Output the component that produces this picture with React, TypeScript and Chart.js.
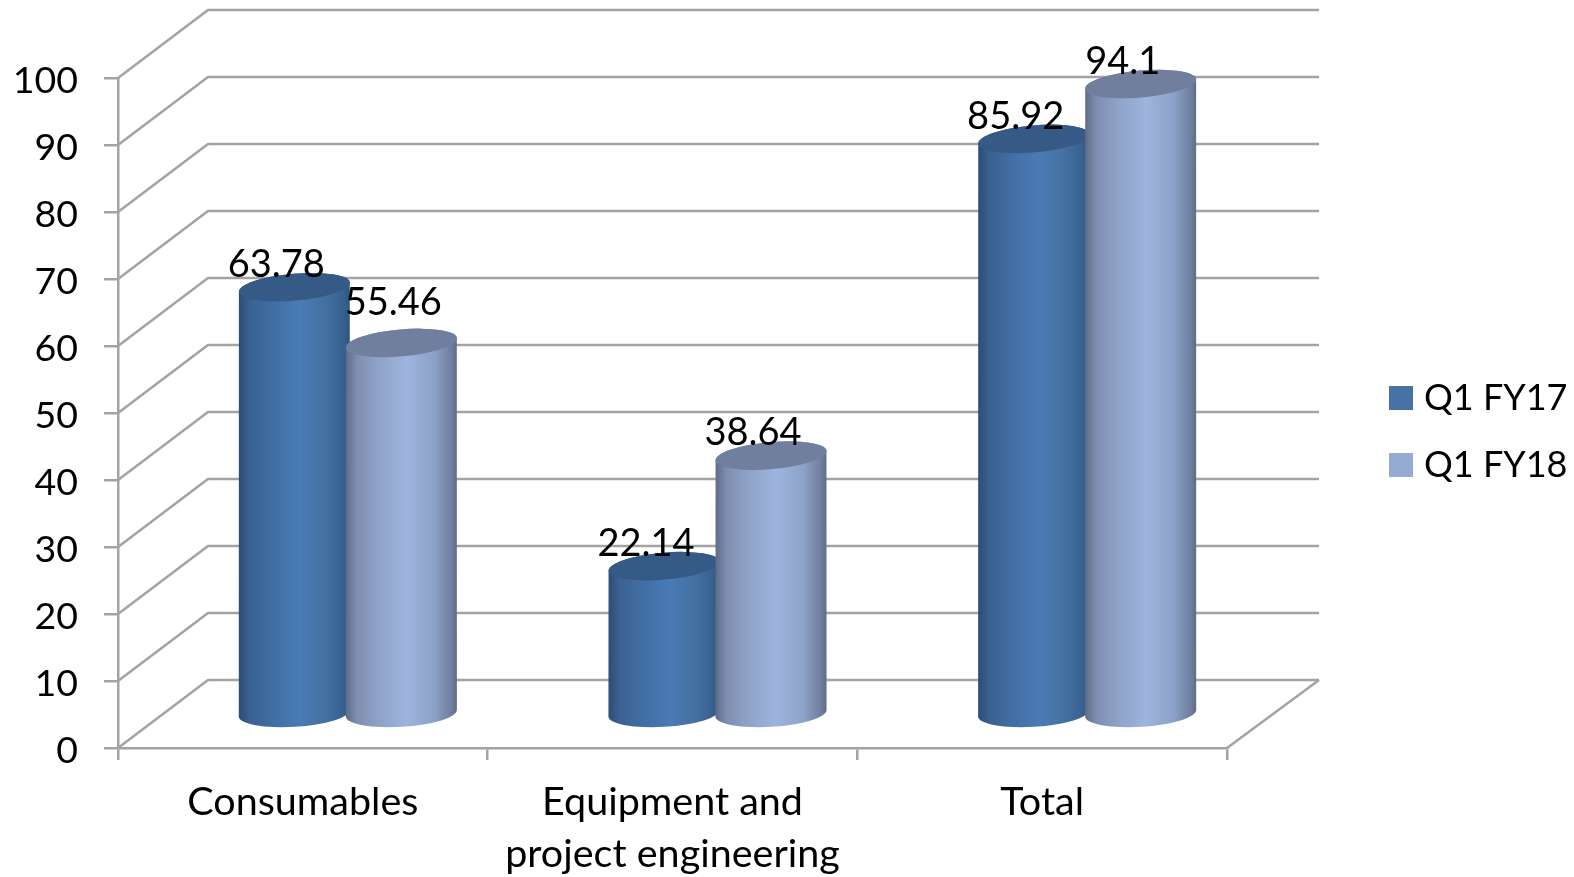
import React, { useEffect, useRef } from "react";
import { Chart, registerables } from "chart.js";

Chart.register(...registerables);

const categories = ["Consumables", ["Equipment and", "project engineering"], "Total"];
const seriesNames = ["Q1 FY17", "Q1 FY18"];
const q1Fy17 = [63.78, 22.14, 85.92];
const q1Fy18 = [55.46, 38.64, 94.1];
const legendColors = ["#4672a8", "#95aad1"];
const FONT = "Lato, Carlito, sans-serif";
const GRID = "#a3a3a3";
const DEPTH_X = 90;
const DEPTH_Y = 68;

const bodyStops = [
  [
    [0, "#2c4d75"], [0.1, "#3a6190"], [0.3, "#416ea3"], [0.55, "#4a7bb5"],
    [0.8, "#436f9f"], [0.95, "#355f8e"], [1, "#2e5580"],
  ],
  [
    [0, "#5d6b86"], [0.1, "#7e8eb0"], [0.3, "#8fa3c9"], [0.55, "#9db4dd"],
    [0.8, "#8ba1c7"], [0.95, "#6f7e9d"], [1, "#5e6c88"],
  ],
];
const capColors = ["#355a86", "#717f9e"];

const cylinders = {
  id: "cylinders",
  afterLayout(chart: any) {
    const l = chart.legend;
    const dy = 431.5 - (l.top + l.bottom) / 2;
    const dx = 1396 - 31 - l.left;
    l.left += dx;
    l.right += dx;
    l.top += dy;
    l.bottom += dy;
  },
  beforeDatasetsDraw(chart: any) {
    const { ctx, chartArea: a, scales } = chart;
    ctx.save();
    ctx.strokeStyle = GRID;
    ctx.lineWidth = 2.5;
    for (const t of scales.y.ticks) {
      const y = scales.y.getPixelForValue(t.value);
      ctx.beginPath();
      ctx.moveTo(a.left, y);
      ctx.lineTo(a.left + DEPTH_X, y - DEPTH_Y);
      ctx.lineTo(a.right + DEPTH_X + 2, y - DEPTH_Y);
      ctx.stroke();
    }
    ctx.beginPath();
    ctx.moveTo(a.right, a.bottom);
    ctx.lineTo(a.right + DEPTH_X + 2, a.bottom - DEPTH_Y);
    ctx.stroke();

    const dx = 45;
    const dy = 33.5;
    chart.data.datasets.forEach((_: any, di: number) => {
      const meta = chart.getDatasetMeta(di);
      meta.data.forEach((bar: any) => {
        const rx = (bar.width * 1.04) / 2;
        const cx = bar.x + dx;
        const topY = bar.y - dy;
        const baseY = bar.base - dy;
        const rotTop = (-5 * Math.PI) / 180;
        const rotBase = (-3.5 * Math.PI) / 180;
        const g = ctx.createLinearGradient(cx - rx, 0, cx + rx, 0);
        for (const [o, c] of bodyStops[di]) g.addColorStop(o as number, c as string);
        ctx.fillStyle = g;
        ctx.beginPath();
        ctx.ellipse(cx, baseY, rx, 13.5, rotBase, 0, Math.PI, false);
        ctx.ellipse(cx, topY, rx, 13.5, rotTop, Math.PI, 2 * Math.PI, false);
        ctx.closePath();
        ctx.fill();
        ctx.fillStyle = capColors[di];
        ctx.beginPath();
        ctx.ellipse(cx, topY, rx, 13.5, rotTop, 0, 2 * Math.PI);
        ctx.fill();
      });
    });
    ctx.restore();
  },
  beforeDatasetDraw() {
    return false;
  },
  afterDatasetsDraw(chart: any) {
    const { ctx } = chart;
    ctx.save();
    ctx.fillStyle = "#000";
    ctx.font = `38px ${FONT}`;
    ctx.textAlign = "center";
    ctx.textBaseline = "middle";
    chart.data.datasets.forEach((ds: any, di: number) => {
      chart.getDatasetMeta(di).data.forEach((bar: any, i: number) => {
        const moved = di === 1 && i === 0;
        ctx.fillText(String(ds.data[i]), bar.x + (moved ? 37 : 27), bar.y - (moved ? 74 : 56));
      });
    });
    ctx.restore();
  },
};

export default function App() {
  const ref = useRef<HTMLCanvasElement>(null);
  useEffect(() => {
    const chart = new Chart(ref.current as HTMLCanvasElement, {
      type: "bar",
      data: {
        labels: categories as any,
        datasets: [
          { label: seriesNames[0], data: q1Fy17, backgroundColor: legendColors[0] },
          { label: seriesNames[1], data: q1Fy18, backgroundColor: legendColors[1] },
        ],
      },
      plugins: [cylinders as any],
      options: {
        responsive: false,
        animation: false,
        devicePixelRatio: 1,
        categoryPercentage: 0.579,
        barPercentage: 1,
        layout: { padding: { top: 78, left: 0, right: 134.5, bottom: 0 } },
        plugins: {
          tooltip: { enabled: false },
          legend: {
            position: "right",
            labels: {
              usePointStyle: true,
              pointStyle: "rect",
              boxWidth: 10,
              boxHeight: 24,
              padding: 31,
              color: "#000",
              font: { family: FONT, size: 36 },
            },
          },
        },
        scales: {
          x: {
            afterFit(s: any) { s.height = 129; },
            grid: { drawOnChartArea: false, color: GRID, lineWidth: 2.5, tickLength: 12, tickColor: GRID },
            border: { color: GRID, width: 2.5 },
            ticks: {
              color: "#000",
              padding: 16,
              maxRotation: 0,
              autoSkip: false,
              font: { family: FONT, size: 39.5, lineHeight: 1.316 },
            },
          },
          y: {
            min: 0,
            max: 100,
            afterFit(s: any) { s.width = 118; },
            grid: { drawOnChartArea: false, color: GRID, lineWidth: 2.5, tickLength: 14, tickColor: GRID },
            border: { color: GRID, width: 2.5 },
            ticks: {
              stepSize: 10,
              color: "#000",
              padding: 26,
              labelOffset: 3,
              font: { family: FONT, size: 37.5 },
            },
          },
        },
      } as any,
    });
    return () => chart.destroy();
  }, []);
  return (
    <canvas
      ref={ref}
      width={1574}
      height={877}
      style={{ position: "absolute", left: 0, top: 0, display: "block" }}
    />
  );
}
